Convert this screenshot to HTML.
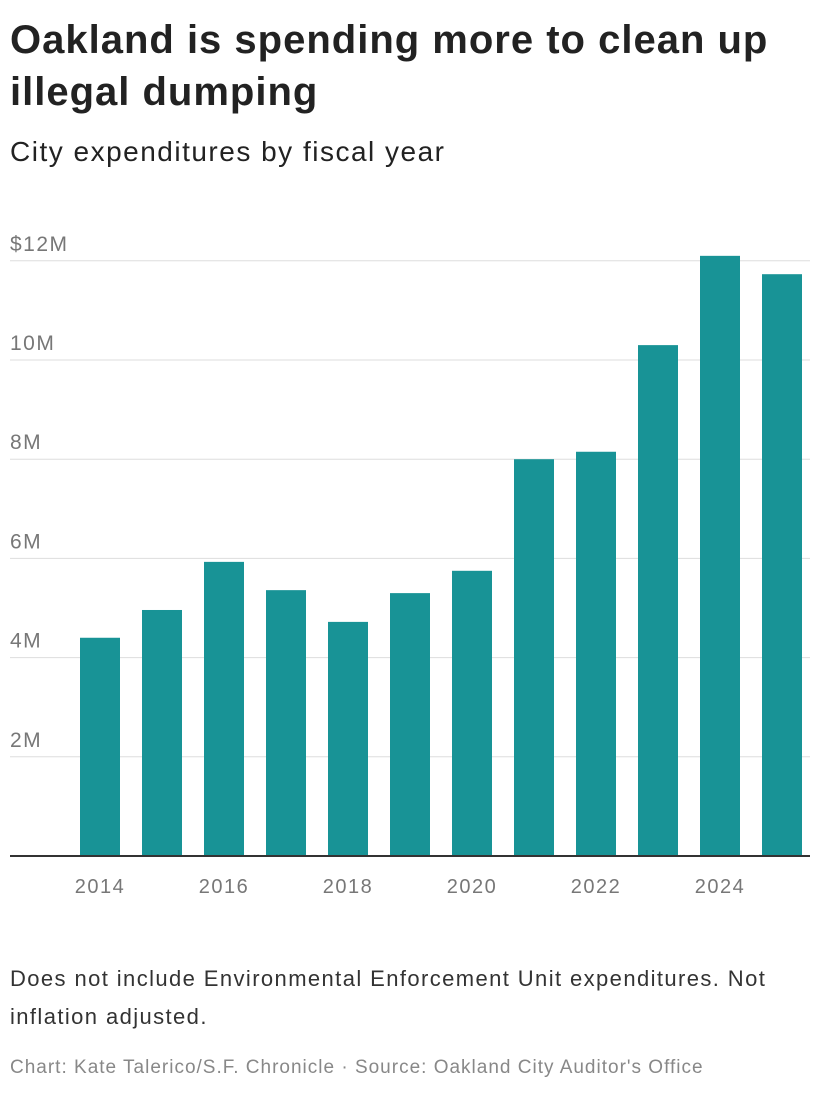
<!DOCTYPE html>
<html><head><meta charset="utf-8"><style>
body{margin:0;width:820px;height:1096px;background:#fff;font-family:"Liberation Sans",sans-serif;color:#222;position:relative;overflow:hidden}
#title{position:absolute;left:10px;top:14px;width:810px;font-size:40px;letter-spacing:1px;font-weight:bold;line-height:52px;margin:0}
#sub{position:absolute;left:10px;top:136px;font-size:28px;letter-spacing:1.5px;color:#222}
#note{position:absolute;left:10px;top:960px;width:790px;font-size:22px;letter-spacing:1.4px;line-height:38px;color:#333}
#foot{position:absolute;left:10px;top:1057px;font-size:19px;letter-spacing:1px;color:#888}
svg{position:absolute;left:0;top:0}
</style></head><body>
<h1 id="title">Oakland is spending more to clean up illegal dumping</h1>
<div id="sub">City expenditures by fiscal year</div>
<svg id="chart" width="820" height="940"></svg>
<div id="note">Does not include Environmental Enforcement Unit expenditures. Not inflation adjusted.</div>
<div id="foot">Chart: Kate Talerico/S.F. Chronicle · Source: Oakland City Auditor's Office</div>
<script>
const years=[2014,2015,2016,2017,2018,2019,2020,2021,2022,2023,2024,2025];
const values=[4.40,4.96,5.93,5.36,4.72,5.30,5.75,8.0,8.15,10.3,12.1,11.73];
const yTicks=[2,4,6,8,10,12];
const yTickLabels=["2M","4M","6M","8M","10M","$12M"];
const xTickYears=[2014,2016,2018,2020,2022,2024];
const NS="http://www.w3.org/2000/svg";
const svg=document.getElementById('chart');
const y0=856,pxPerM=49.6;
function y(v){return y0-v*pxPerM;}
function x(yr){return 80+(yr-2014)*62;}
const bw=40;
function mk(t,a){const e=document.createElementNS(NS,t);for(const k in a)e.setAttribute(k,a[k]);svg.appendChild(e);return e;}
yTicks.forEach((t,i)=>{
  const l=mk('line',{x1:10,x2:810,y1:y(t),y2:y(t),stroke:'#ddd','stroke-width':1});
  
  
  const tx=mk('text',{x:10,y:y(t)-10,'font-size':21,'letter-spacing':'1.5',fill:'#777','font-family':'Liberation Sans, sans-serif'});
  tx.textContent=yTickLabels[i];
  
  
});
years.forEach((yr,i)=>{
  const r=mk('rect',{x:x(yr),y:y(values[i]),width:bw,height:y0-y(values[i]),fill:'#189396'});
  
  
});
const ax=mk('line',{x1:10,x2:810,y1:y0,y2:y0,stroke:'#333','stroke-width':2});


xTickYears.forEach(yr=>{
  const tx=mk('text',{x:x(yr)+bw/2,y:893,'font-size':20,fill:'#777','text-anchor':'middle','letter-spacing':'1.5','font-family':'Liberation Sans, sans-serif'});
  tx.textContent=yr;
  
  
});
</script>
</body></html>
